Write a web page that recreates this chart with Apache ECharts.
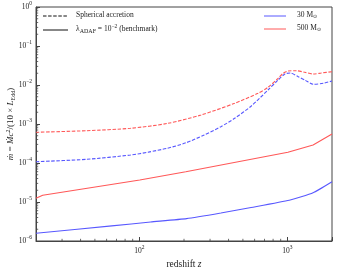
<!DOCTYPE html>
<html><head><meta charset="utf-8">
<script src="https://cdn.jsdelivr.net/npm/echarts@6/dist/echarts.min.js"></script>
<style>html,body{margin:0;padding:0;background:#fff}#c{width:337px;height:268px}</style>
</head><body><div id="c"></div>
<script>
// redshift z and log10(mdot) values
const blueDashZ = [20, 44, 87, 115, 154, 206, 274, 355, 440, 570, 739, 865, 961, 1045, 1183, 1318, 1496, 1750, 2000];
const blueDashLog = [-3.967, -3.905, -3.795, -3.721, -3.623, -3.482, -3.282, -3.069, -2.854, -2.538, -2.128, -1.872, -1.718, -1.692, -1.787, -1.879, -1.982, -1.956, -1.897];
const redDashZ = [20, 44, 87, 155, 261, 440, 632, 739, 865, 935, 1012, 1146, 1312, 1496, 1695, 2000];
const redDashLog = [-3.213, -3.172, -3.110, -2.985, -2.769, -2.469, -2.213, -2.059, -1.828, -1.700, -1.641, -1.633, -1.674, -1.718, -1.692, -1.659];
const blueSolidZ = [20, 65, 119, 208, 355, 568, 1028, 1490, 2000];
const blueSolidLog = [-5.800, -5.613, -5.513, -5.426, -5.282, -5.141, -4.956, -4.762, -4.479];
const redSolidZ = [20, 22.2, 100.5, 205.6, 1007, 1490, 2000];
const redSolidLog = [-4.905, -4.825, -4.436, -4.223, -3.726, -3.538, -3.256];
const xMinorTicks = [30, 40, 50, 60, 70, 80, 90, 200, 300, 400, 500, 600, 700, 800, 900, 2000];
const yMinorMult = [2, 3, 4, 5, 6, 7, 8, 9];
const yDecades = [-6, -5, -4, -3, -2, -1];

const FONT = 'Liberation Serif';
const BLUE = '#5858ff', RED = '#ff5858';
function pairs(zs, ls) { return zs.map((z, i) => [z, Math.pow(10, ls[i])]); }

const yMinor = [];
yDecades.forEach(d => yMinorMult.forEach(m => yMinor.push(m * Math.pow(10, d))));

const supStyle = { fontFamily: FONT, fontSize: 5.5, padding: [0, 0, 6, 0], color: '#222' };

const chart = echarts.init(document.getElementById('c'), null, { renderer: 'canvas' });
chart.setOption({
  animation: false,
  grid: { left: 36, right: 5, top: 7, bottom: 27, show: true, borderColor: '#444', borderWidth: 1, containLabel: false, outerBoundsMode: 'none' },
  xAxis: {
    type: 'log', logBase: 10, min: 20, max: 2000,
    name: '{n|redshift }{i|z}', nameLocation: 'middle', nameGap: 11,
    nameTextStyle: { rich: { n: { fontFamily: FONT, fontSize: 9.5, color: '#222' }, i: { fontFamily: FONT, fontSize: 9.5, fontStyle: 'italic', color: '#222' } } },
    axisLine: { lineStyle: { color: '#444', width: 1 } },
    axisTick: { inside: true, length: 4, lineStyle: { color: '#444' } },
    splitLine: { show: false },
    axisLabel: {
      margin: 4,
      formatter: v => { const e = Math.log10(v); return Math.abs(e - Math.round(e)) < 1e-6 ? '{b|10}{s|' + Math.round(e) + '}' : ''; },
      rich: { b: { fontFamily: FONT, fontSize: 7.5, color: '#222' }, s: supStyle }
    }
  },
  yAxis: {
    type: 'log', logBase: 10, min: 1e-6, max: 1,
    name: '{i|ṁ} = {i|Ṁc}{sup|2}/(10 × {i|L}{sub|Edd})', nameLocation: 'middle', nameGap: 19, nameRotate: 90, nameMoveOverlap: false,
    nameTextStyle: { rich: {
      n: { fontFamily: FONT, fontSize: 9, color: '#222' },
      i: { fontFamily: FONT, fontSize: 9, fontStyle: 'italic', color: '#222' },
      sup: { fontFamily: FONT, fontSize: 6, padding: [0, 0, 6, 0], color: '#222' },
      sub: { fontFamily: FONT, fontSize: 6, padding: [4, 0, 0, 0], color: '#222' }
    }, fontFamily: FONT, fontSize: 9, color: '#222' },
    axisLine: { show: true, lineStyle: { color: '#444', width: 1 } },
    axisTick: { show: true, inside: true, length: 4, lineStyle: { color: '#444' } },
    splitLine: { show: false },
    axisLabel: {
      margin: 4,
      formatter: v => { const e = Math.round(Math.log10(v)); return '{b|10}{s|' + (e < 0 ? '−' + (-e) : e) + '}'; },
      rich: { b: { fontFamily: FONT, fontSize: 7.5, color: '#222' }, s: supStyle }
    }
  },
  series: [
    { type: 'line', data: pairs(blueDashZ, blueDashLog), smooth: 0.25, showSymbol: false, lineStyle: { color: BLUE, width: 1.1, type: [3.5, 1.6] } },
    { type: 'line', data: pairs(redDashZ, redDashLog), smooth: 0.25, showSymbol: false, lineStyle: { color: RED, width: 1.1, type: [3.5, 1.6] } },
    { type: 'line', data: pairs(blueSolidZ, blueSolidLog), smooth: 0.15, showSymbol: false, lineStyle: { color: BLUE, width: 1.1 } },
    { type: 'line', data: pairs(redSolidZ, redSolidLog), showSymbol: false, lineStyle: { color: RED, width: 1.1 } },
    { type: 'custom', silent: true, data: xMinorTicks.map(v => [v, 1e-6]), clip: false,
      renderItem: (p, api) => { const pt = api.coord([api.value(0), 1e-6]); return { type: 'line', shape: { x1: pt[0], y1: pt[1], x2: pt[0], y2: pt[1] - 2.2 }, style: { stroke: '#444', lineWidth: 0.8 } }; } },
    { type: 'custom', silent: true, data: yMinor.map(v => [20, v]), clip: false,
      renderItem: (p, api) => { const pt = api.coord([20, api.value(1)]); return { type: 'line', shape: { x1: pt[0], y1: pt[1], x2: pt[0] + 2.2, y2: pt[1] }, style: { stroke: '#444', lineWidth: 0.8 } }; } }
  ],
  graphic: [
    { type: 'line', shape: { x1: 43, y1: 16, x2: 68, y2: 16 }, style: { stroke: '#111', lineWidth: 1, lineDash: [3.5, 1.6] } },
    { type: 'text', left: 76, top: 11, style: { text: 'Spherical accretion', fontFamily: FONT, fontSize: 7.5, fill: '#222' } },
    { type: 'line', shape: { x1: 43, y1: 30, x2: 68, y2: 30 }, style: { stroke: '#111', lineWidth: 1 } },
    { type: 'text', left: 76, top: 24, style: { text: '{n|λ}{s|ADAF}{n| = 10}{p|−2}{n| (benchmark)}', rich: {
      n: { fontFamily: FONT, fontSize: 7.5, fill: '#222' },
      s: { fontFamily: FONT, fontSize: 6, padding: [4, 0, 0, 0], fill: '#222' },
      p: { fontFamily: FONT, fontSize: 5.5, padding: [0, 0, 5, 0], fill: '#222' } } } },
    { type: 'line', shape: { x1: 264, y1: 16, x2: 286, y2: 16 }, style: { stroke: BLUE, lineWidth: 1 } },
    { type: 'text', left: 297, top: 11, style: { text: '{n|30 M}{s|⊙}', rich: {
      n: { fontFamily: FONT, fontSize: 7.5, fill: '#222' }, s: { fontFamily: FONT, fontSize: 5, padding: [4, 0, 0, 0], fill: '#222' } } } },
    { type: 'line', shape: { x1: 264, y1: 29, x2: 286, y2: 29 }, style: { stroke: RED, lineWidth: 1 } },
    { type: 'text', left: 297, top: 24, style: { text: '{n|500 M}{s|⊙}', rich: {
      n: { fontFamily: FONT, fontSize: 7.5, fill: '#222' }, s: { fontFamily: FONT, fontSize: 5, padding: [4, 0, 0, 0], fill: '#222' } } } }
  ]
});
</script></body></html>
